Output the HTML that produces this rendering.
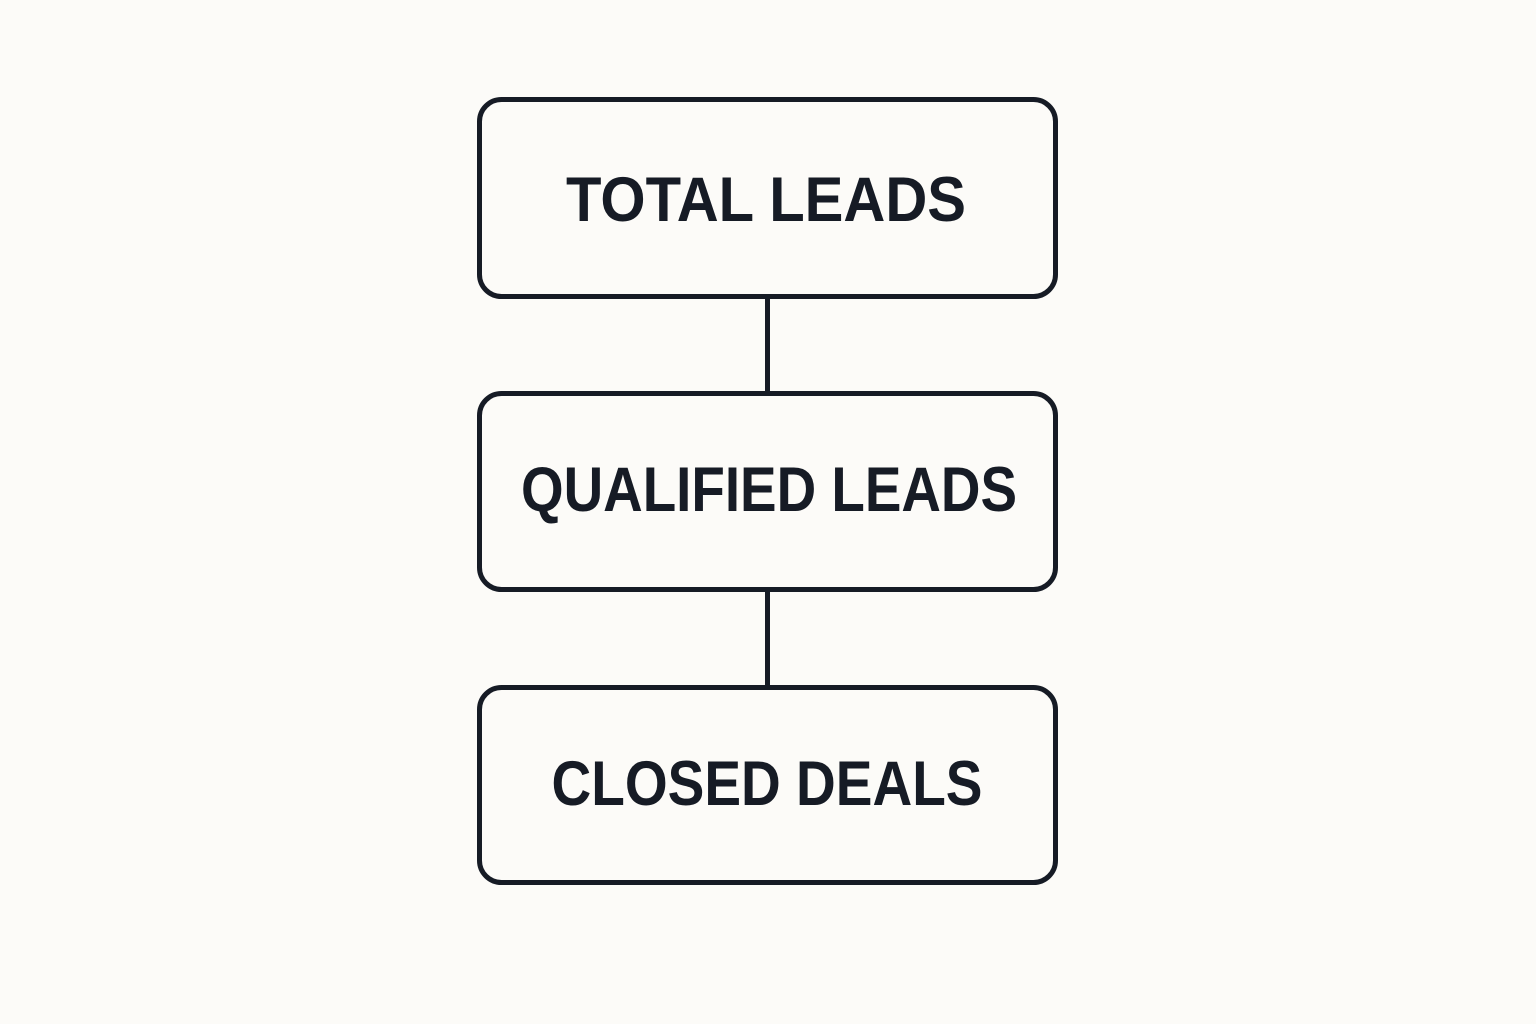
<!DOCTYPE html>
<html><head><meta charset="utf-8"><style>
html,body{margin:0;padding:0;background:#fcfbf8;}
svg{display:block}
text{font-family:"Liberation Sans",sans-serif;font-weight:bold;fill:#161b25;}
</style></head><body>
<svg width="1536" height="1024" viewBox="0 0 1536 1024" xmlns="http://www.w3.org/2000/svg">
<rect width="1536" height="1024" fill="#fcfbf8"/>
<g fill="none" stroke="#161b25" stroke-width="5">
<rect x="479.5" y="99.5" width="576" height="197" rx="22"/>
<rect x="479.5" y="393.5" width="576" height="196" rx="22"/>
<rect x="479.5" y="687.5" width="576" height="195" rx="22"/>
<line x1="767.5" y1="297" x2="767.5" y2="393"/>
<line x1="767.5" y1="590" x2="767.5" y2="687"/>
</g>
<text x="766" y="221" font-size="63" text-anchor="middle" textLength="400" lengthAdjust="spacingAndGlyphs">TOTAL LEADS</text>
<text x="769" y="511" font-size="63" text-anchor="middle" textLength="496" lengthAdjust="spacingAndGlyphs">QUALIFIED LEADS</text>
<text x="767" y="805" font-size="63" text-anchor="middle" textLength="431" lengthAdjust="spacingAndGlyphs">CLOSED DEALS</text>
</svg>
</body></html>
